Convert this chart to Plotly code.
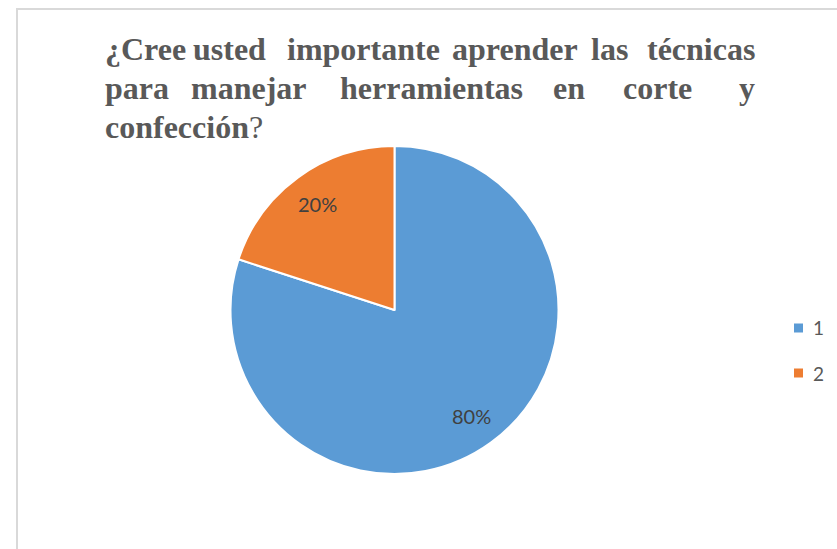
import math
import plotly.graph_objects as go

# Chart data
categories = ["1", "2"]
values = [80, 20]
slice_colors = ["#5B9BD5", "#ED7D31"]

title_lines = [
    ["¿Cree", "usted", "importante", "aprender", "las", "técnicas"],
    ["para", "manejar", "herramientas", "en", "corte", "y"],
]

W, H = 837, 549
cx, cy, R = 394.5, 310.0, 164.0


def px(x):
    return x / W


def py(y):
    return (H - y) / H


fig = go.Figure()
fig.add_trace(go.Pie(
    labels=categories,
    values=values,
    sort=False,
    direction="clockwise",
    rotation=0,
    marker=dict(colors=slice_colors, line=dict(color="white", width=2)),
    textposition="none",
    hoverinfo="label+percent",
    showlegend=False,
    domain=dict(x=[px(cx - R), px(cx + R)], y=[py(cy + R), py(cy - R)]),
))

annotations = []
shapes = []

# Percentage labels at 80 % of the radius along each slice's mid-angle
total = sum(values)
start = 0.0
for v in values:
    frac = v / total
    mid = (start + frac / 2) * 2 * math.pi
    start += frac
    lx = cx + 0.8 * R * math.sin(mid)
    ly = cy - 0.8 * R * math.cos(mid)
    annotations.append(dict(
        x=px(lx), y=py(ly), xref="paper", yref="paper",
        text=f"{frac * 100:.0f}%", showarrow=False,
        xanchor="center", yanchor="middle",
        font=dict(family="Lato", size=20, color="#404040"),
    ))

# Justified title, word by word
title_font = dict(family="Liberation Serif", size=32, color="#595959")
word_x = [
    [103, 229, 363, 515, 609, 757],
    [103, 249, 431, 569, 657, 757],
]
line_y = [49, 88]
for words, xs, yv in zip(title_lines, word_x, line_y):
    n = len(words)
    for i, (w, xw) in enumerate(zip(words, xs)):
        anchor = "left" if i == 0 else ("right" if i == n - 1 else "center")
        annotations.append(dict(
            x=px(xw), y=py(yv), xref="paper", yref="paper",
            text=f"<b>{w}</b>", showarrow=False,
            xanchor=anchor, yanchor="middle", font=title_font,
        ))
annotations.append(dict(
    x=px(103), y=py(127), xref="paper", yref="paper",
    text="<b>confección</b>?", showarrow=False,
    xanchor="left", yanchor="middle", font=title_font,
))

# Legend
leg_y = [328, 373]
for cat, col, ly in zip(categories, slice_colors, leg_y):
    shapes.append(dict(
        type="rect", xref="paper", yref="paper",
        x0=px(794), x1=px(803), y0=py(ly + 4.5), y1=py(ly - 4.5),
        fillcolor=col, line=dict(width=0),
    ))
    annotations.append(dict(
        x=px(811), y=py(ly), xref="paper", yref="paper",
        text=cat, showarrow=False, xanchor="left", yanchor="middle",
        font=dict(family="Lato", size=19, color="#595959"),
    ))

# Chart frame
shapes.append(dict(
    type="rect", xref="paper", yref="paper",
    x0=px(17), x1=1.05, y0=-0.05, y1=py(9),
    line=dict(color="#D9D9D9", width=2), fillcolor="rgba(0,0,0,0)",
    layer="below",
))

fig.update_layout(
    width=W, height=H,
    margin=dict(l=0, r=0, t=0, b=0),
    paper_bgcolor="white",
    plot_bgcolor="white",
    annotations=annotations,
    shapes=shapes,
)

fig.write_html("out.html")
